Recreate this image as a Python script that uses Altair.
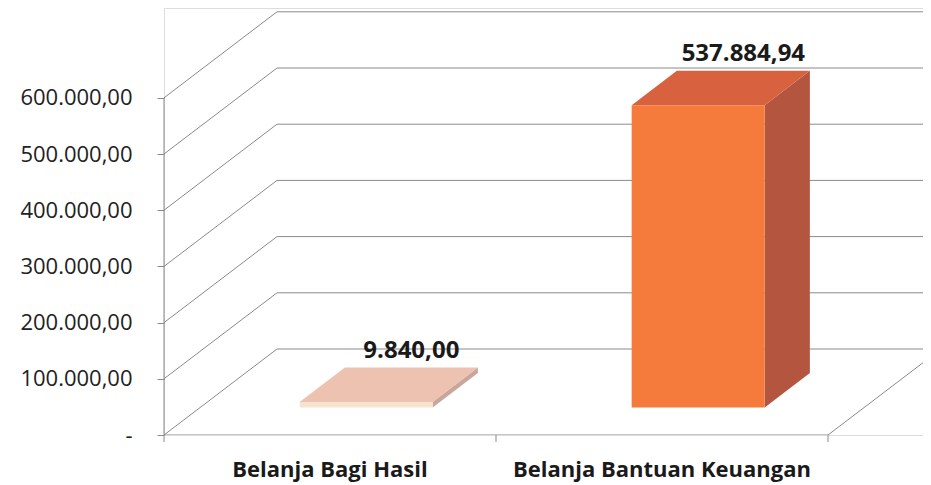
import altair as alt
import pandas as pd

# ---------------- data ----------------
categories = ["Belanja Bagi Hasil", "Belanja Bantuan Keuangan"]
values = [9840.00, 537884.94]
value_labels = ["9.840,00", "537.884,94"]
tick_values = [0, 100000, 200000, 300000, 400000, 500000, 600000]

# ---------------- styles ----------------
front_colors = ["#F6E4D0", "#F47B3B"]
top_colors = ["#EDC2B0", "#D8613F"]
side_colors = ["#C9A59C", "#B3553F"]
GRID = "#8a8a8a"
FONT = "Open Sans"

# ---------------- geometry (pixels) ----------------
W, H = 759, 427
BAND_PX = 332
PX_PER_100K = 56.2
DEPTH_DX_PX, DEPTH_DY_PX = 113, 86
BAR_W_PX = 133
F0, F1 = 0.32, 0.72
TICK_PX = 7

ppv = PX_PER_100K / 100000.0
XMAX = W / BAND_PX
YMAX = H / ppv
DX = DEPTH_DX_PX / BAND_PX
DV = DEPTH_DY_PX / ppv
HW = BAR_W_PX / 2 / BAND_PX
TICK_V = TICK_PX / ppv
n = len(categories)
centers = [i + 0.5 for i in range(n)]

xs = alt.Scale(domain=[0, XMAX], nice=False, zero=False)
ys = alt.Scale(domain=[0, YMAX], nice=False, zero=False)

yaxis = alt.Axis(
    values=tick_values,
    labelExpr="datum.value == 0 ? '-' : replace(replace(replace(format(datum.value, ',.2f'), ',', '#'), '.', ','), '#', '.')",
    domain=False, grid=False, ticks=True, tickSize=TICK_PX, tickColor=GRID,
    labelFont=FONT, labelFontSize=22, labelColor="#222222", labelPadding=25,
    title=None, labelBaseline="middle",
)


def X(f):
    return alt.X(f, type="quantitative", scale=xs, axis=None)


def Y(f):
    return alt.Y(f, type="quantitative", scale=ys, axis=yaxis)


# back wall gridlines
back = pd.DataFrame({"x": [DX] * len(tick_values), "x2": [XMAX] * len(tick_values),
                     "y": [v + DV for v in tick_values]})
back_rules = alt.Chart(back).mark_rule(color=GRID, strokeWidth=1).encode(
    x=X("x"), x2="x2", y=Y("y"))

# side wall diagonals
side = pd.DataFrame({"x": [0.0] * len(tick_values), "x2": [DX] * len(tick_values),
                     "y": tick_values, "y2": [v + DV for v in tick_values]})
side_rules = alt.Chart(side).mark_rule(color=GRID, strokeWidth=1).encode(
    x=X("x"), x2="x2", y=Y("y"), y2="y2")

# floor front line and right diagonal
floor = pd.DataFrame({"x": [0.0, float(n)], "x2": [float(n), n + DX],
                      "y": [0.0, 0.0], "y2": [0.0, DV]})
floor_rules = alt.Chart(floor).mark_rule(color=GRID, strokeWidth=1, clip=True).encode(
    x=X("x"), x2="x2", y=Y("y"), y2="y2")

# front vertical axis line
axis_line = pd.DataFrame({"x": [0.0], "y": [-TICK_V], "y2": [max(tick_values)]})
axis_rule = alt.Chart(axis_line).mark_rule(color=GRID, strokeWidth=1).encode(
    x=X("x"), y=Y("y"), y2="y2")

# category boundary ticks on floor
ftick = pd.DataFrame({"x": [float(i) for i in range(1, n + 1)], "y": [0.0] * n, "y2": [-TICK_V] * n})
ftick_rules = alt.Chart(ftick).mark_rule(color=GRID, strokeWidth=1).encode(
    x=X("x"), y=Y("y"), y2="y2")

# bars: front face
front = pd.DataFrame({
    "cat": categories,
    "x": [c - HW + F0 * DX for c in centers],
    "x2": [c + HW + F0 * DX for c in centers],
    "y": [F0 * DV] * n,
    "y2": [v + F0 * DV for v in values],
    "col": front_colors,
})
front_faces = alt.Chart(front).mark_rect().encode(
    x=X("x"), x2="x2", y=Y("y"), y2="y2", color=alt.Color("col:N", scale=None))

# bars: top face
top_rows = []
for c, v, cat, col in zip(centers, values, categories, top_colors):
    for f in (F0, F1):
        top_rows.append({"cat": cat, "y": v + f * DV, "x": c - HW + f * DX,
                         "x2": c + HW + f * DX, "col": col})
top = pd.DataFrame(top_rows)
top_faces = alt.Chart(top).mark_area(orient="horizontal").encode(
    y=Y("y"), x=X("x"), x2="x2", detail="cat:N", color=alt.Color("col:N", scale=None))

# bars: side face
side_rows = []
for c, v, cat, col in zip(centers, values, categories, side_colors):
    for f in (F0, F1):
        side_rows.append({"cat": cat, "x": c + HW + f * DX, "y": f * DV,
                          "y2": v + f * DV, "col": col})
sided = pd.DataFrame(side_rows)
side_faces = alt.Chart(sided).mark_area(orient="vertical").encode(
    x=X("x"), y=Y("y"), y2="y2", detail="cat:N", color=alt.Color("col:N", scale=None))

# value labels
lab = pd.DataFrame({"x": [c + F1 * DX for c in centers],
                    "y": [v + F1 * DV for v in values], "t": value_labels})
value_text = alt.Chart(lab).mark_text(
    dy=-10, baseline="alphabetic", align="center", font=FONT, fontSize=24,
    fontWeight="bold", color="#1a1a1a").encode(x=X("x"), y=Y("y"), text="t:N")

# category labels
catd = pd.DataFrame({"x": centers, "y": [0.0] * n, "t": categories})
cat_text = alt.Chart(catd).mark_text(
    dy=42, baseline="alphabetic", align="center", font=FONT, fontSize=22,
    fontWeight="bold", color="#1a1a1a").encode(x=X("x"), y=Y("y"), text="t:N")

chart = alt.layer(
    back_rules, side_rules, floor_rules, axis_rule, ftick_rules,
    side_faces, top_faces, front_faces, value_text, cat_text,
).properties(
    width=W, height=H,
    autosize=alt.AutoSizeParams(type="none"),
    padding={"left": 156, "top": 0, "right": 0, "bottom": 48},
).configure_view(stroke=None).configure(background="white")

chart.save("out.html", embed_options={"renderer": "svg", "actions": False})
